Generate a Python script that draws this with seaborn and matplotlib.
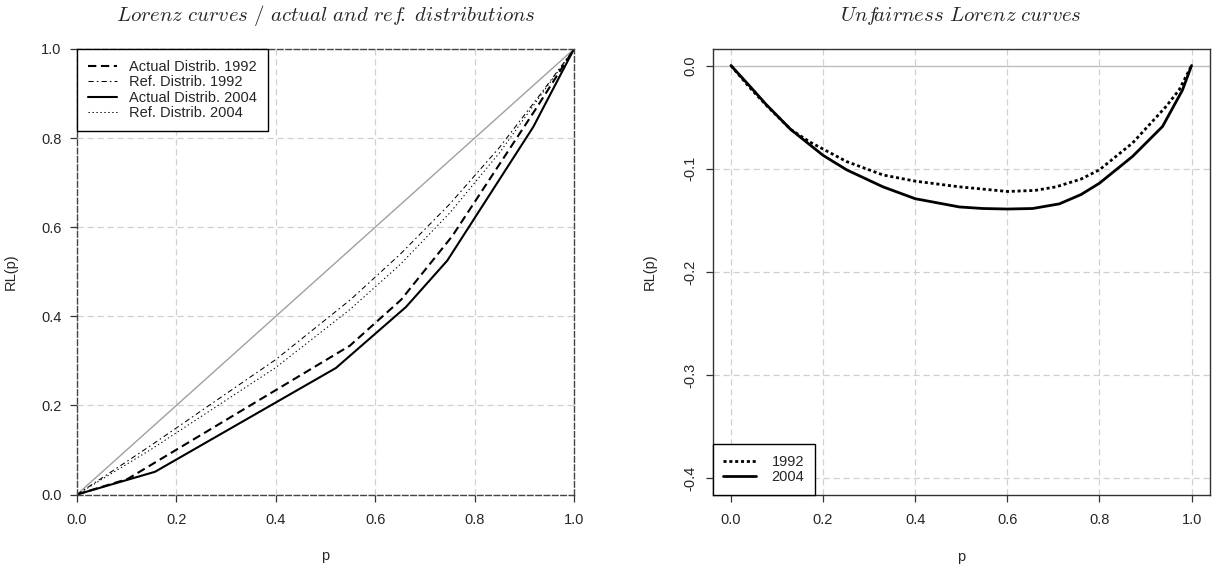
import matplotlib
matplotlib.use("Agg")
import matplotlib.pyplot as plt
import seaborn as sns

# left panel: Lorenz curves (actual vs reference distributions)
p_act_1992 = [0, 0.102, 0.549, 0.652, 0.755, 0.92, 1]
L_act_1992 = [0, 0.035, 0.334, 0.437, 0.58, 0.86, 1]
p_ref_1992 = [0, 0.15, 0.4, 0.55, 0.65, 0.75, 0.85, 0.93, 1]
L_ref_1992 = [0, 0.111, 0.303, 0.437, 0.539, 0.652, 0.779, 0.895, 1]
p_act_2004 = [0, 0.157, 0.521, 0.662, 0.745, 0.918, 1]
L_act_2004 = [0, 0.051, 0.284, 0.421, 0.525, 0.825, 1]
p_ref_2004 = [0, 0.15, 0.4, 0.55, 0.65, 0.75, 0.85, 0.93, 1]
L_ref_2004 = [0, 0.102, 0.285, 0.416, 0.516, 0.632, 0.767, 0.891, 1]

# right panel: unfairness Lorenz curves
p_unf_1992 = [0, 0.04, 0.08, 0.13, 0.171, 0.251, 0.33, 0.4, 0.496, 0.6, 0.66,
              0.706, 0.76, 0.8, 0.872, 0.944, 0.973, 1.0]
rl_unf_1992 = [0, -0.021, -0.040, -0.062, -0.074, -0.093, -0.106, -0.112, -0.1175,
               -0.122, -0.121, -0.1175, -0.110, -0.101, -0.075, -0.040, -0.0236, 0]
p_unf_2004 = [0, 0.04, 0.077, 0.13, 0.2, 0.251, 0.33, 0.4, 0.496, 0.547, 0.6,
              0.655, 0.713, 0.76, 0.8, 0.872, 0.937, 0.98, 1.0]
rl_unf_2004 = [0, -0.0195, -0.038, -0.062, -0.087, -0.101, -0.1175, -0.129, -0.137,
               -0.1385, -0.139, -0.1385, -0.134, -0.125, -0.114, -0.088, -0.059, -0.024, 0]

ticks01 = [0, 0.2, 0.4, 0.6, 0.8, 1.0]
yticks_unf = [-0.4, -0.3, -0.2, -0.1, 0.0]

sns.set_style("white")
plt.rcParams['font.family'] = ['Liberation Sans', 'DejaVu Sans']
plt.rcParams['axes.unicode_minus'] = False
plt.rcParams['mathtext.fontset'] = 'cm'

W, H = 1212, 568
FS = 10.5
fig = plt.figure(figsize=(W / 100, H / 100), dpi=100)
ax1 = fig.add_axes([77 / W, (H - 494.5) / H, 497 / W, 445.5 / H])
ax2 = fig.add_axes([712.5 / W, (H - 495) / H, 497.5 / W, 446 / H])

grid_kw = dict(color='#d0d0d0', lw=0.9, linestyle=(0, (5, 3)))

# ---- left panel ----
ax1.set_xlim(0, 1)
ax1.set_ylim(0, 1)
for t in ticks01:
    ax1.axvline(t, zorder=0, **grid_kw)
    ax1.axhline(t, zorder=0, **grid_kw)
sns.lineplot(x=[0, 1], y=[0, 1], ax=ax1, color='#a0a0a0', lw=1.0, sort=False, estimator=None)
sns.lineplot(x=p_act_1992, y=L_act_1992, ax=ax1, color='black', lw=1.5,
             linestyle=(0, (4, 2.2)), sort=False, estimator=None, label='Actual Distrib. 1992')
sns.lineplot(x=p_ref_1992, y=L_ref_1992, ax=ax1, color='black', lw=0.75,
             linestyle=(0, (5, 3, 1.5, 3)), sort=False, estimator=None, label='Ref. Distrib. 1992')
sns.lineplot(x=p_act_2004, y=L_act_2004, ax=ax1, color='black', lw=1.5,
             sort=False, estimator=None, label='Actual Distrib. 2004')
sns.lineplot(x=p_ref_2004, y=L_ref_2004, ax=ax1, color='black', lw=0.75,
             linestyle=(0, (1.3, 2.5)), sort=False, estimator=None, label='Ref. Distrib. 2004')
for s in ax1.spines.values():
    s.set_color('#444444')
    s.set_linewidth(1.0)
    s.set_linestyle((0, (4, 2)))
ax1.set_xticks(ticks01)
ax1.set_yticks(ticks01)
ax1.set_xticklabels([f"{t:.1f}" for t in ticks01])
ax1.set_yticklabels([f"{t:.1f}" for t in ticks01])
leg1 = ax1.legend(loc='upper left', borderaxespad=0, fancybox=False, framealpha=1,
                  edgecolor='black', fontsize=FS, handlelength=2.0, handletextpad=0.8,
                  labelspacing=0.1, borderpad=0.75)
leg1.get_frame().set_linewidth(1.0)

# ---- right panel ----
ax2.set_xlim(-0.04, 1.04)
ax2.set_ylim(-0.416, 0.016)
for t in ticks01:
    ax2.axvline(t, zorder=0, **grid_kw)
for t in yticks_unf[:-1]:
    ax2.axhline(t, zorder=0, **grid_kw)
ax2.axhline(0, color='#bdbdbd', lw=1.0, zorder=0)
sns.lineplot(x=p_unf_1992, y=rl_unf_1992, ax=ax2, color='black', lw=2.0,
             linestyle=(0, (1.1, 1.0)), sort=False, estimator=None, label='1992')
sns.lineplot(x=p_unf_2004, y=rl_unf_2004, ax=ax2, color='black', lw=2.0,
             sort=False, estimator=None, label='2004')
for s in ax2.spines.values():
    s.set_color('#333333')
    s.set_linewidth(1.0)
ax2.set_xticks(ticks01)
ax2.set_xticklabels([f"{t:.1f}" for t in ticks01])
ax2.set_yticks(yticks_unf)
ax2.set_yticklabels([f"{t:.1f}" for t in yticks_unf], rotation=90, va='center')
leg2 = ax2.legend(loc='lower left', borderaxespad=0, fancybox=False, framealpha=1,
                  edgecolor='black', fontsize=FS, handlelength=2.2, handletextpad=1.1,
                  labelspacing=0.05, borderpad=0.75)
leg2.get_frame().set_linewidth(1.0)

for ax in (ax1, ax2):
    ax.tick_params(direction='out', length=5, width=0.9, color='#333333',
                   labelsize=FS, bottom=True, left=True)
    ax.tick_params(axis='x', pad=8)
    ax.tick_params(axis='y', pad=6)
    ax.set_xlabel('p', fontsize=FS)
    ax.set_ylabel('RL(p)', fontsize=FS)
    ax.xaxis.set_label_coords(0.5, -0.123)
ax1.yaxis.set_label_coords(-0.119, 0.5)
ax2.yaxis.set_label_coords(-0.113, 0.5)

title_kw = dict(ha='center', va='center', fontsize=15)
fig.text((77 + 497 / 2) / W, 1 - 16 / H,
         r'$\mathit{Lorenz\ curves\ /\ actual\ and\ ref\!.\ distributions}$', **title_kw)
fig.text((712.5 + 497.5 / 2) / W, 1 - 16 / H,
         r'$\mathit{Unf\!airness\ Lorenz\ curves}$', **title_kw)

fig.savefig('out.png', dpi=100)
